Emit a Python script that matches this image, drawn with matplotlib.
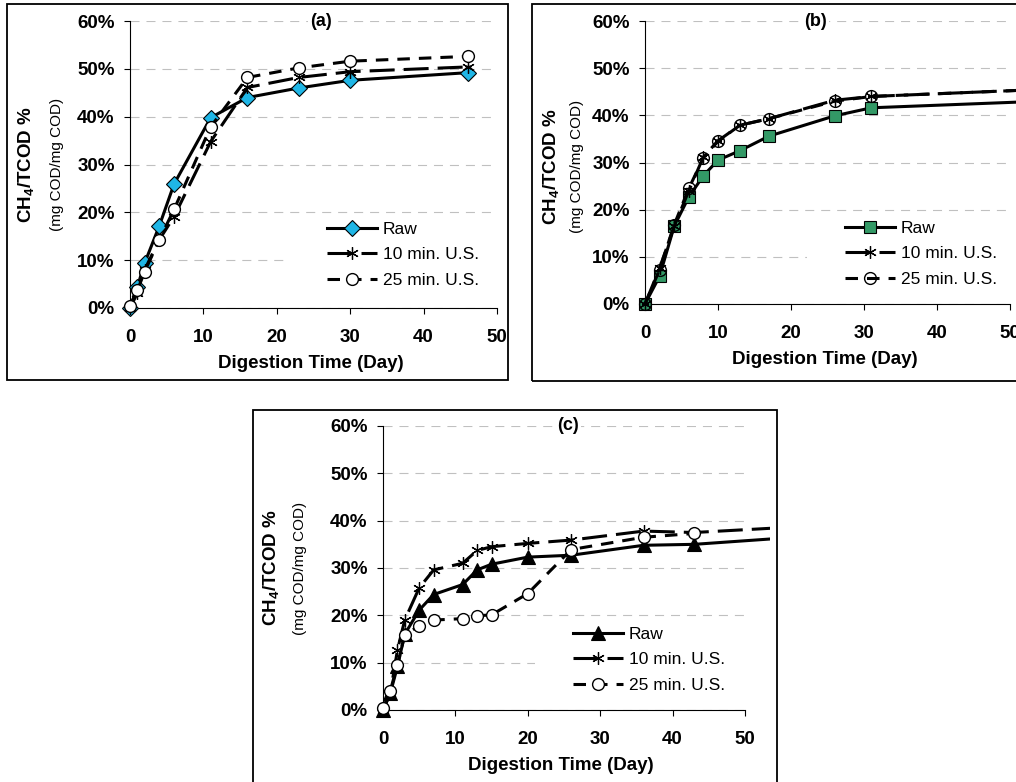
import matplotlib
matplotlib.use('Agg')
import matplotlib.pyplot as plt
from matplotlib.patches import Rectangle
from matplotlib.path import Path
from matplotlib.ticker import FuncFormatter

plt.rcParams['font.family'] = ['Liberation Sans', 'DejaVu Sans']
plt.rcParams['lines.scale_dashes'] = False
plt.rcParams['mathtext.fontset'] = 'custom'
plt.rcParams['mathtext.rm'] = 'Liberation Sans'

labels = ['Raw', '10 min. U.S.', '25 min. U.S.']

# (a) values in %
day_a = [0, 1, 2, 4, 6, 11, 16, 23, 30, 46]
raw_a = [0, 4.4, 9.4, 17.2, 25.9, 39.8, 44.0, 46.0, 47.6, 49.2]
us10_a = [0, 3.1, 8.0, 14.3, 19.1, 34.8, 46.1, 48.2, 49.4, 50.4]
us25_a = [0.5, 3.7, 7.6, 14.3, 20.6, 37.9, 48.2, 50.2, 51.6, 52.6]

# (b)
day_b = [0, 2, 4, 6, 8, 10, 13, 17, 26, 31, 56]
raw_b = [0, 5.9, 16.5, 22.7, 27.2, 30.5, 32.5, 35.6, 39.9, 41.6, 43.1]
us10_b = [0, 7.6, 16.5, 24.0, 31.2, 34.6, 37.9, 39.3, 43.2, 44.0, 45.6]
us25_b = [0, 7.3, 16.8, 24.5, 31.0, 34.5, 37.9, 39.3, 43.0, 44.0, 45.6]

# (c)
day_c = [0, 1, 2, 3, 5, 7, 11, 13, 15, 20, 26, 36, 43, 56]
raw_c = [0, 3.5, 9.2, 16.0, 21.1, 24.4, 26.5, 29.6, 30.8, 32.3, 32.7, 34.8, 35.0, 36.4]
us10_c = [0, 3.5, 12.7, 19.0, 25.8, 29.6, 31.0, 33.7, 34.5, 35.2, 35.9, 37.8, 37.5, 38.6]
day25_c = [0, 1, 2, 3, 5, 7, 11, 13, 15, 20, 26, 36, 43]
us25_c = [0.4, 4.0, 9.6, 15.8, 17.8, 19.0, 19.3, 19.9, 20.1, 24.6, 33.9, 36.5, 37.3]

W, H = 1016, 782


def frac(x0, y0, x1, y1):
    return [x0 / W, 1 - y1 / H, (x1 - x0) / W, (y1 - y0) / H]


# circle with a bar, used for 25 min in (b)
circ_bar = Path.make_compound_path(Path.unit_circle(),
                                   Path([(-0.6, 0), (0.6, 0)], [Path.MOVETO, Path.LINETO]))

panels = [
    dict(tag='(a)', box=(7, 4, 508, 380), ax=(130, 21, 497, 308), tx=0.52,
         ylab=(-103, -73, 0), leg=(0.537, 0.301), cover=0.43,
         days=(day_a, day_a, day_a), vals=(raw_a, us10_a, us25_a),
         raw_mk='D', raw_ms=8, raw_fc='#1fb6e6', c25=('o', 'white')),
    dict(tag='(b)', box=(532, 4, 1040, 381), ax=(645, 21, 1010, 304), tx=0.466,
         ylab=(-93, -68, -4), leg=(0.548, 0.295), cover=0.444,
         days=(day_b, day_b, day_b), vals=(raw_b, us10_b, us25_b),
         raw_mk='s', raw_ms=9, raw_fc='#339966', c25=(circ_bar, 'none')),
    dict(tag='(c)', box=(253, 410, 777, 800), ax=(383, 426, 745, 710), tx=0.511,
         ylab=(-111, -83, 0), leg=(0.525, 0.294), cover=0.42,
         days=(day_c, day_c, day25_c), vals=(raw_c, us10_c, us25_c),
         raw_mk='^', raw_ms=9.5, raw_fc='black', c25=('o', 'white')),
]

fig = plt.figure(figsize=(W / 100, H / 100), dpi=100)

for p in panels:
    bx = p['box']
    fig.add_artist(Rectangle((bx[0] / W, 1 - bx[3] / H), (bx[2] - bx[0]) / W, (bx[3] - bx[1]) / H,
                             transform=fig.transFigure, fill=False, edgecolor='black', linewidth=1.3))
    clip = Rectangle((bx[0] / W, 1 - (bx[3] - 6) / H), (bx[2] - bx[0] - 7) / W, (bx[3] - bx[1] - 12) / H,
                     transform=fig.transFigure)

    ax = fig.add_axes(frac(*p['ax']))
    ax.set_xlim(0, 50)
    ax.set_ylim(0, 60)
    ax.set_xticks(range(0, 51, 10))
    ax.set_yticks(range(0, 61, 10))
    ax.yaxis.set_major_formatter(FuncFormatter(lambda v, pos: '%d%%' % v))
    for s in ['top', 'right']:
        ax.spines[s].set_visible(False)
    for s in ['left', 'bottom']:
        ax.spines[s].set_linewidth(0.8)
    ax.tick_params(direction='out', length=4, width=0.8, labelsize=13.5)
    ax.tick_params(axis='y', pad=7)
    ax.tick_params(axis='x', pad=11)
    for t in ax.get_xticklabels() + ax.get_yticklabels():
        t.set_fontweight('bold')
    ax.set_axisbelow(True)
    ax.yaxis.grid(True, color='#c0c0c0', linewidth=0.8, linestyle=(0, (6.5, 5)))

    # white legend background that hides the grid below it
    ax.add_patch(Rectangle((p['cover'], 0.01), 1 - p['cover'], 0.31, transform=ax.transAxes,
                           facecolor='white', edgecolor='none', zorder=1))

    d_raw, d10, d25 = p['days']
    v_raw, v10, v25 = p['vals']
    l1, = ax.plot(d_raw, v_raw, color='black', lw=2.2, marker=p['raw_mk'], ms=p['raw_ms'],
                  mfc=p['raw_fc'], mec='black', mew=0.8, zorder=3, label=labels[0])
    l2, = ax.plot(d10, v10, color='black', lw=2.2, linestyle=(0, (18, 6.5)), marker=(6, 2, 0),
                  ms=9, mec='black', mew=0.9, zorder=4, label=labels[1])
    l3, = ax.plot(d25, v25, color='black', lw=2.2, linestyle=(0, (9, 6.5)), marker=p['c25'][0],
                  ms=8.5, mfc=p['c25'][1], mec='black', mew=1.0, zorder=5, label=labels[2])
    for ln in (l1, l2, l3):
        ln.set_clip_path(clip)

    ax.legend(handles=[l1, l2, l3], loc='upper left', bbox_to_anchor=p['leg'], frameon=False,
              borderpad=0, borderaxespad=0, handlelength=2.9, handletextpad=0.3,
              labelspacing=0.6, fontsize=12.5, numpoints=1)

    ax.text(p['tx'], 1.0, p['tag'], transform=ax.transAxes, ha='center', va='center',
            fontsize=13, fontweight='bold', zorder=6,
            bbox=dict(facecolor='white', edgecolor='none', pad=1.5))

    ox1, ox2, oy = p['ylab']
    ax.annotate(r'CH$_{\mathregular{4}}$/TCOD %', xy=(0, 0.5), xycoords='axes fraction',
                xytext=(ox1, oy), textcoords='offset pixels', rotation=90,
                ha='center', va='center', fontsize=13.5, fontweight='bold')
    ax.annotate('(mg COD/mg COD)', xy=(0, 0.5), xycoords='axes fraction',
                xytext=(ox2, oy), textcoords='offset pixels', rotation=90,
                ha='center', va='center', fontsize=11)
    ax.annotate('Digestion Time (Day)', xy=(0.5, 0), xycoords='axes fraction',
                xytext=(-3, -56), textcoords='offset pixels',
                ha='center', va='center', fontsize=13.5, fontweight='bold')

fig.savefig('out.png', dpi=100)
